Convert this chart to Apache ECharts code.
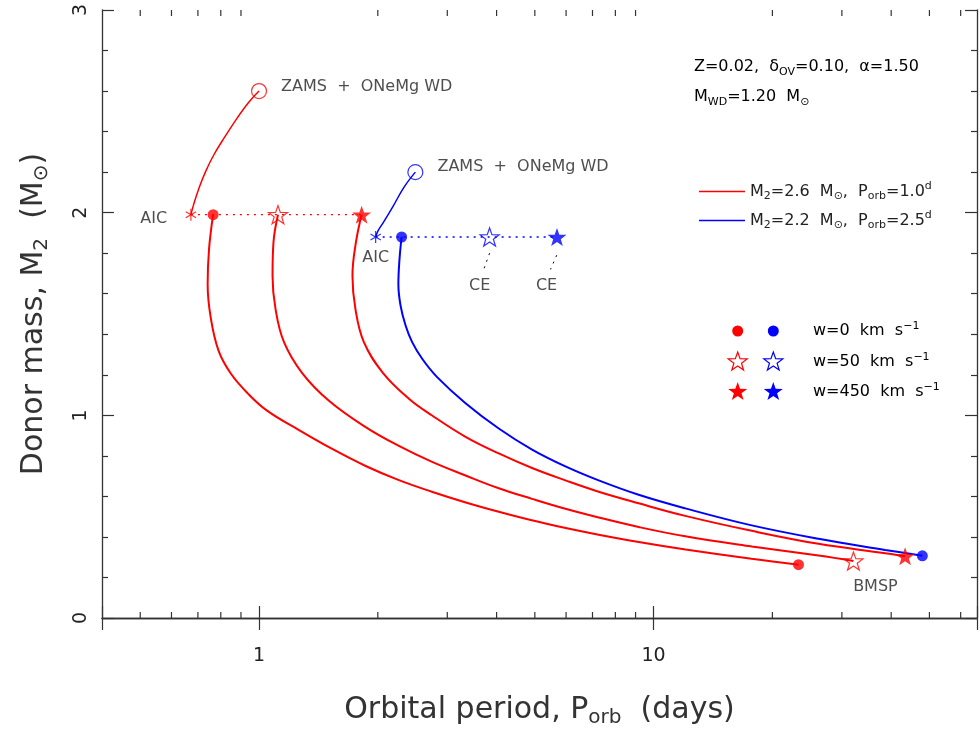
<!DOCTYPE html>
<html>
<head>
<meta charset="utf-8">
<script src="https://cdn.jsdelivr.net/npm/echarts@6/dist/echarts.min.js"></script>
<style>html,body{margin:0;padding:0;background:#fff}#chart{width:980px;height:733px}</style>
</head>
<body>
<div id="chart"></div>
<script>
var chart = echarts.init(document.getElementById('chart'));

// axis ranges and ticks
var xMin = 0.4, xMax = 66;
var yMin = 0, yMax = 3;
var minorTicksX = [0.5, 0.6, 0.7, 0.8, 0.9, 2, 3, 4, 5, 6, 7, 8, 9, 20, 30, 40, 50, 60];

// evolution before AIC (ZAMS -> AIC)
var preAicRed = [[1.0, 2.60], [0.943, 2.546], [0.881, 2.468], [0.816, 2.369], [0.769, 2.287], [0.733, 2.205], [0.705, 2.123], [0.683, 2.041], [0.672, 1.99]];
var preAicBlue = [[2.49, 2.20], [2.329, 2.125], [2.184, 2.030], [2.072, 1.956], [2.001, 1.909], [1.975, 1.88]];

// dotted lines joining AIC to the post-kick starting points
var kickLineRed = [[0.672, 1.99], [1.82, 1.99]];
var kickLineBlue = [[1.975, 1.88], [5.69, 1.88]];

// tracks after AIC
var trackRedW0 = [[0.765, 1.99], [0.747, 1.820], [0.741, 1.648], [0.754, 1.485], [0.790, 1.318], [0.849, 1.205], [0.938, 1.107], [1.048, 1.023], [1.263, 0.927], [1.533, 0.834], [1.863, 0.750], [2.262, 0.680], [2.741, 0.623], [3.342, 0.570], [4.051, 0.524], [4.911, 0.482], [5.987, 0.444], [7.257, 0.411], [9.163, 0.375], [12.05, 0.338], [17.70, 0.292], [23.29, 0.263]];
var trackRedW50 = [[1.117, 1.99], [1.088, 1.854], [1.082, 1.689], [1.101, 1.525], [1.157, 1.361], [1.285, 1.210], [1.504, 1.072], [1.863, 0.942], [2.262, 0.849], [2.746, 0.770], [3.337, 0.703], [4.051, 0.640], [4.920, 0.588], [5.977, 0.539], [7.257, 0.496], [9.163, 0.449], [12.03, 0.403], [17.73, 0.353], [26.17, 0.308], [32.09, 0.281]];
var trackRedW450 = [[1.82, 1.99], [1.760, 1.853], [1.725, 1.689], [1.755, 1.525], [1.844, 1.361], [2.060, 1.210], [2.398, 1.082], [2.746, 0.999], [3.337, 0.894], [4.051, 0.812], [4.920, 0.740], [5.977, 0.679], [7.257, 0.623], [9.163, 0.566], [12.03, 0.504], [17.73, 0.430], [26.17, 0.366], [38.60, 0.320], [43.38, 0.305]];
var trackBlueW0 = [[2.298, 1.88], [2.268, 1.761], [2.255, 1.648], [2.284, 1.541], [2.352, 1.443], [2.444, 1.361], [2.591, 1.279], [2.823, 1.190], [3.337, 1.060], [4.051, 0.935], [4.920, 0.831], [5.977, 0.748], [7.257, 0.679], [9.163, 0.608], [12.03, 0.541], [17.73, 0.457], [26.17, 0.391], [38.60, 0.336], [47.98, 0.307]];

// markers
var zamsRed = [[1.0, 2.60]], zamsBlue = [[2.49, 2.20]];
var aicRed = [[0.672, 1.99]], aicBlue = [[1.975, 1.88]];
var w0Red = [[0.765, 1.99], [23.29, 0.263]], w0Blue = [[2.298, 1.88], [47.98, 0.307]];
var w50Red = [[1.117, 1.99], [32.09, 0.281]], w50Blue = [[3.84, 1.88]];
var w450Red = [[1.82, 1.99], [43.38, 0.305]], w450Blue = [[5.69, 1.88]];

// common-envelope pointers
var ceLine1 = [[3.84, 1.80], [3.71, 1.72]];
var ceLine2 = [[5.68, 1.79], [5.48, 1.72]];

var RED = '#ff0000', BLUE = '#0000ff', TXT = '#222', AX = '#333';
var F = 'DejaVu Sans';
var STAR = 'path://M50 0L61.76 33.82L97.55 34.55L69.02 56.18L79.39 90.45L50 70L20.61 90.45L30.98 56.18L2.45 34.55L38.24 33.82Z';
var ASTER = 'path://M50 0L50 100M6.7 25L93.3 75M6.7 75L93.3 25';

var rich16 = {
    t: {fontSize: 16, fontFamily: F, color: TXT},
    s: {fontSize: 11, fontFamily: F, color: TXT, padding: [10, 0, 0, 0]},
    u: {fontSize: 11, fontFamily: F, color: TXT, padding: [0, 0, 10, 0]}
};
var richTitle = {
    t: {fontSize: 30, fontFamily: F, color: AX},
    s: {fontSize: 20, fontFamily: F, color: AX, padding: [16, 0, 0, 0]}
};

function track(name, data, color, width, dotted) {
    return {
        name: name, type: 'line', data: data, smooth: dotted ? false : 0.4,
        showSymbol: false, symbol: 'none', silent: true, z: 2,
        itemStyle: {color: color},
        lineStyle: {color: color, width: width, type: dotted ? [2, 5] : 'solid'}
    };
}

function marker(name, data, symbol, size, color, hollow, label) {
    return {
        name: name, type: 'scatter', data: data, symbol: symbol, symbolSize: size,
        symbolKeepAspect: true, silent: true, z: 5,
        itemStyle: hollow ? {color: 'rgba(0,0,0,0)', borderColor: color, borderWidth: 1.2}
                          : {color: color},
        label: label || {show: false}
    };
}

function textLabel(text, pos, distance, offset) {
    return {show: true, position: pos, distance: distance, offset: offset || [0, 0],
        formatter: text, color: TXT, fontFamily: F, fontSize: 16};
}

function starPoints(cx, cy, r) {
    var pts = [];
    for (var k = 0; k < 10; k++) {
        var a = -Math.PI / 2 + k * Math.PI / 5;
        var rr = k % 2 ? r * 0.4 : r;
        pts.push([cx + rr * Math.cos(a), cy + rr * Math.sin(a)]);
    }
    return pts;
}

var legendRows = [
    {y: 331, text: '{t|w=0  km  s}{u|\u22121}'},
    {y: 362, text: '{t|w=50  km  s}{u|\u22121}'},
    {y: 392, text: '{t|w=450  km  s}{u|\u22121}'}
];

var graphics = [
    {type: 'text', x: 694, y: 67, style: {text: '{t|Z=0.02,  \u03b4}{s|OV}{t|=0.10,  \u03b1=1.50}', rich: rich16, verticalAlign: 'middle', textVerticalAlign: 'middle'}},
    {type: 'text', x: 694, y: 97, style: {text: '{t|M}{s|WD}{t|=1.20  M}{s|\u2299}', rich: rich16, verticalAlign: 'middle', textVerticalAlign: 'middle'}},
    {type: 'circle', shape: {cx: 737.7, cy: 331, r: 5.5}, style: {fill: RED}},
    {type: 'circle', shape: {cx: 773.3, cy: 331, r: 5.5}, style: {fill: BLUE}},
    {type: 'polygon', shape: {points: starPoints(737.7, 362, 10)}, style: {fill: 'none', stroke: RED, lineWidth: 1.2}},
    {type: 'polygon', shape: {points: starPoints(773.3, 362, 10)}, style: {fill: 'none', stroke: BLUE, lineWidth: 1.2}},
    {type: 'polygon', shape: {points: starPoints(737.7, 392, 10)}, style: {fill: RED}},
    {type: 'polygon', shape: {points: starPoints(773.3, 392, 10)}, style: {fill: BLUE}}
];
legendRows.forEach(function (r) {
    graphics.push({type: 'text', x: 813, y: r.y, style: {text: r.text, rich: rich16, verticalAlign: 'middle', textVerticalAlign: 'middle'}});
});

var option = {
    backgroundColor: '#fff',
    animation: false,
    grid: {left: 102, right: 2, top: 10, bottom: 113},
    legend: {
        data: [
            {name: 'M2=2.6', itemStyle: {color: RED}, lineStyle: {color: RED}},
            {name: 'M2=2.2', itemStyle: {color: BLUE}, lineStyle: {color: BLUE}}
        ],
        orient: 'vertical', left: 694, top: 176, itemGap: 8,
        icon: 'rect', itemWidth: 46, itemHeight: 1.3, selectedMode: false,
        formatter: function (name) {
            return name === 'M2=2.6'
                ? '{t|M}{s|2}{t|=2.6  M}{s|\u2299}{t|,  P}{s|orb}{t|=1.0}{u|d}'
                : '{t|M}{s|2}{t|=2.2  M}{s|\u2299}{t|,  P}{s|orb}{t|=2.5}{u|d}';
        },
        textStyle: {rich: rich16}
    },
    xAxis: [{
        type: 'log', logBase: 10, min: xMin, max: xMax, position: 'bottom',
        name: '{t|Orbital period, P}{s|orb}{t|  (days)}',
        nameLocation: 'middle', nameGap: 74,
        nameTextStyle: {rich: richTitle},
        axisLine: {lineStyle: {color: AX, width: 1.3}},
        axisTick: {inside: true, length: 12, lineStyle: {color: AX, width: 1.2}},
        axisLabel: {
            fontSize: 19, fontFamily: F, color: TXT, margin: 29,
            formatter: function (v) {
                if (Math.abs(v - 1) < 1e-6) return '1';
                if (Math.abs(v - 10) < 1e-6) return '10';
                return '';
            }
        },
        splitLine: {show: false}
    }, {
        type: 'log', logBase: 10, min: xMin, max: xMax, position: 'top',
        axisLine: {lineStyle: {color: AX, width: 1.3}},
        axisTick: {inside: true, length: 12, lineStyle: {color: AX, width: 1.2}},
        axisLabel: {show: false},
        splitLine: {show: false}
    }],
    yAxis: [{
        type: 'value', min: yMin, max: yMax, interval: 1, position: 'left',
        name: '{t|Donor mass, M}{s|2}{t|  (M}{s|\u2299}{t|)}',
        nameLocation: 'middle', nameGap: 50, nameRotate: 90,
        nameTextStyle: {rich: richTitle},
        axisLine: {lineStyle: {color: AX, width: 1.3}},
        axisTick: {inside: true, length: 12, lineStyle: {color: AX, width: 1.2}},
        minorTick: {show: true, splitNumber: 5, length: 6, lineStyle: {color: AX, width: 1.2}},
        axisLabel: {fontSize: 19, fontFamily: F, color: TXT, rotate: 90, margin: 11},
        splitLine: {show: false}, minorSplitLine: {show: false}
    }, {
        type: 'value', min: yMin, max: yMax, interval: 1, position: 'right',
        axisLine: {lineStyle: {color: AX, width: 1.3}},
        axisTick: {inside: true, length: 12, lineStyle: {color: AX, width: 1.2}},
        minorTick: {show: true, splitNumber: 5, length: 6, lineStyle: {color: AX, width: 1.2}},
        axisLabel: {show: false},
        splitLine: {show: false}, minorSplitLine: {show: false}
    }],
    graphic: graphics,
    series: [
        track('M2=2.6', preAicRed, RED, 1.5),
        track('M2=2.2', preAicBlue, BLUE, 1.5),
        track('kickRed', kickLineRed, RED, 1.3, true),
        track('kickBlue', kickLineBlue, BLUE, 1.3, true),
        track('M2=2.6', trackRedW0, RED, 2),
        track('M2=2.6', trackRedW50, RED, 2),
        track('M2=2.6', trackRedW450, RED, 2),
        track('M2=2.2', trackBlueW0, BLUE, 2),
        track('ce1', ceLine1, '#000', 1, true),
        track('ce2', ceLine2, '#000', 1, true),
        marker('zamsRed', zamsRed, 'circle', 15, RED, true, textLabel('ZAMS  +  ONeMg WD', 'right', 14, [0, -4])),
        marker('zamsBlue', zamsBlue, 'circle', 15, BLUE, true, textLabel('ZAMS  +  ONeMg WD', 'right', 14, [0, -5])),
        marker('aicRed', aicRed, ASTER, 12, RED, true, textLabel('AIC', 'left', 18, [0, 4])),
        marker('aicBlue', aicBlue, ASTER, 12, BLUE, true, textLabel('AIC', 'bottom', 6)),
        marker('w0Red', w0Red, 'circle', 11, RED, false),
        marker('w0Blue', w0Blue, 'circle', 11, BLUE, false),
        marker('w50Red', w50Red.map(function (d, i) {
            return i === 1 ? {value: d, label: textLabel('BMSP', 'bottom', 8, [22, 0])} : d;
        }), STAR, 19, RED, true),
        marker('w50Blue', w50Blue, STAR, 19, BLUE, true),
        marker('w450Red', w450Red, STAR, 19, RED, false),
        marker('w450Blue', w450Blue, STAR, 19, BLUE, false),
        marker('ceLabels', [ceLine1[1], ceLine2[1]], 'circle', 0, '#000', false, textLabel('CE', 'bottom', 8, [-4, 0])),
        {
            name: 'minorTicksX', type: 'custom', silent: true, clip: false, z: 1,
            data: minorTicksX.map(function (v) { return [v, yMin]; }),
            renderItem: function (params, api) {
                var b = api.coord([api.value(0), yMin]);
                var t = api.coord([api.value(0), yMax]);
                var st = {stroke: AX, lineWidth: 1.2};
                return {type: 'group', children: [
                    {type: 'line', shape: {x1: b[0], y1: b[1], x2: b[0], y2: b[1] - 6}, style: st},
                    {type: 'line', shape: {x1: t[0], y1: t[1], x2: t[0], y2: t[1] + 6}, style: st}
                ]};
            }
        }
    ]
};

chart.setOption(option);
</script>
</body>
</html>
